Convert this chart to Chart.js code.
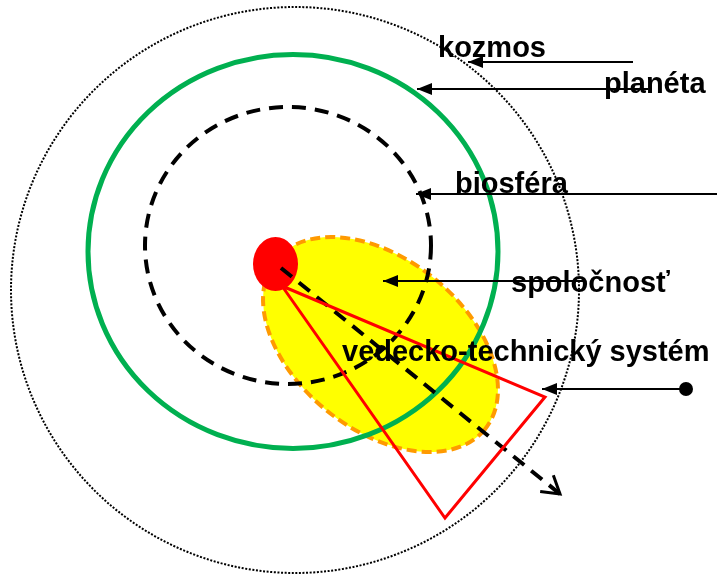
<!DOCTYPE html>
<html>
<head>
<meta charset="utf-8">
<script src="https://cdn.jsdelivr.net/npm/chart.js@4"></script>
<style>
  html, body { margin: 0; padding: 0; background: #ffffff; }
  #wrap { width: 717px; height: 574px; }
</style>
</head>
<body>
<div id="wrap"><canvas id="c" width="717" height="574"></canvas></div>
<script>
// ---- Diagram data (diagram units: 0..717 across, 0..574 down) ----
// Rings / ellipses, drawn back to front
const ringNames   = ['spoločnosť', 'kozmos', 'planéta', 'biosféra', 'jadro'];
const ringCx      = [380.5, 295, 293, 288, 275.5];
const ringCy      = [344.5, 290, 251.5, 245.5, 264];
const ringRx      = [134.5, 284, 205, 143, 22.5];
const ringRy      = [85.2, 283, 197, 138.5, 27];
const ringAngle   = [39, 0, 0, 0, 0];

// Labels
const labelTexts = ['kozmos', 'planéta', 'biosféra', 'spoločnosť', 'vedecko-technický systém'];
const labelX     = [438, 604, 455, 511, 342];
const labelY     = [57, 93, 193, 292, 361];

// Pointer arrows (start -> tip)
const arrowStartX = [633, 648, 717, 585, 686];
const arrowTipX   = [468, 417, 416, 383, 542];
const arrowY      = [62, 89, 194, 281, 389];

// Vedecko-technický systém wedge (triangle vertices)
const wedgeX = [282, 545, 445, 282];
const wedgeY = [286, 397, 518, 286];

// Direction of development (dashed arrow)
const trendX = [281, 560];
const trendY = [268, 494];

// ---- Styles ----
const ringStyles = [
  { fill: '#FFFF00', stroke: '#FF9A00', width: 4, dash: [10, 5] },
  { fill: null, stroke: '#000000', width: 2, dash: [2, 1.6] },
  { fill: null, stroke: '#00B050', width: 5, dash: [] },
  { fill: null, stroke: '#000000', width: 4, dash: [14, 9] },
  { fill: '#FF0000', stroke: null, width: 0, dash: [] }
];

const datasets = [];
// wedge
datasets.push({
  label: 'wedge',
  data: wedgeX.map((x, i) => ({ x: x, y: wedgeY[i] })),
  showLine: true, borderColor: '#FF0000', borderWidth: 3, pointRadius: 0,
  borderJoinStyle: 'miter', fill: false, tension: 0
});
// dashed trend arrow
datasets.push({
  label: 'trend',
  data: trendX.map((x, i) => ({ x: x, y: trendY[i] })),
  showLine: true, borderColor: '#000000', borderWidth: 4, borderDash: [14, 9],
  pointRadius: 0, fill: false, tension: 0
});
// pointer arrows
arrowStartX.forEach((sx, i) => {
  datasets.push({
    label: 'arrow' + i,
    data: [{ x: sx, y: arrowY[i] }, { x: arrowTipX[i], y: arrowY[i] }],
    showLine: true, borderColor: '#000000', borderWidth: 2, fill: false, tension: 0,
    pointRadius: i === 4 ? [7, 0] : 0,
    pointBackgroundColor: '#000000', pointBorderWidth: 0
  });
});

const shapesPlugin = {
  id: 'shapes',
  beforeDatasetsDraw(chart) {
    const ctx = chart.ctx, xs = chart.scales.x, ys = chart.scales.y;
    for (let i = 0; i < ringCx.length; i++) {
      const st = ringStyles[i];
      const px = xs.getPixelForValue(ringCx[i]);
      const py = ys.getPixelForValue(ringCy[i]);
      const rx = Math.abs(xs.getPixelForValue(ringCx[i] + ringRx[i]) - px);
      const ry = Math.abs(ys.getPixelForValue(ringCy[i] + ringRy[i]) - py);
      ctx.save();
      ctx.beginPath();
      ctx.ellipse(px, py, rx, ry, ringAngle[i] * Math.PI / 180, 0, Math.PI * 2);
      if (st.fill) { ctx.fillStyle = st.fill; ctx.fill(); }
      if (st.stroke) {
        ctx.strokeStyle = st.stroke; ctx.lineWidth = st.width;
        ctx.setLineDash(st.dash); ctx.stroke();
      }
      ctx.restore();
    }
  },
  afterDatasetsDraw(chart) {
    const ctx = chart.ctx, xs = chart.scales.x, ys = chart.scales.y;
    // filled arrowheads
    for (let i = 0; i < arrowTipX.length; i++) {
      const tx = xs.getPixelForValue(arrowTipX[i]), ty = ys.getPixelForValue(arrowY[i]);
      const sx = xs.getPixelForValue(arrowStartX[i]);
      const dir = Math.sign(tx - sx);
      ctx.save();
      ctx.fillStyle = '#000000';
      ctx.beginPath();
      ctx.moveTo(tx, ty);
      ctx.lineTo(tx - dir * 15, ty - 6);
      ctx.lineTo(tx - dir * 15, ty + 6);
      ctx.closePath();
      ctx.fill();
      ctx.restore();
    }
    // open arrowhead on trend
    const ax = xs.getPixelForValue(trendX[1]), ay = ys.getPixelForValue(trendY[1]);
    const bx = xs.getPixelForValue(trendX[0]), by = ys.getPixelForValue(trendY[0]);
    const ang = Math.atan2(ay - by, ax - bx);
    ctx.save();
    ctx.strokeStyle = '#000000'; ctx.lineWidth = 3; ctx.setLineDash([]);
    ctx.lineJoin = 'miter';
    ctx.beginPath();
    ctx.moveTo(ax - 20 * Math.cos(ang - 0.55), ay - 20 * Math.sin(ang - 0.55));
    ctx.lineTo(ax, ay);
    ctx.lineTo(ax - 20 * Math.cos(ang + 0.55), ay - 20 * Math.sin(ang + 0.55));
    ctx.stroke();
    ctx.restore();
    // labels
    ctx.save();
    ctx.fillStyle = '#000000';
    ctx.font = 'bold 29px "Liberation Sans", Arial, sans-serif';
    ctx.textBaseline = 'alphabetic';
    ctx.textAlign = 'left';
    labelTexts.forEach((t, i) => {
      ctx.fillText(t, xs.getPixelForValue(labelX[i]), ys.getPixelForValue(labelY[i]));
    });
    ctx.restore();
  }
};

new Chart(document.getElementById('c'), {
  type: 'scatter',
  data: { datasets: datasets },
  options: {
    responsive: false,
    animation: false,
    devicePixelRatio: 1,
    layout: { padding: 0, autoPadding: false },
    plugins: { legend: { display: false }, tooltip: { enabled: false } },
    scales: {
      x: { type: 'linear', min: 0, max: 717, display: false },
      y: { type: 'linear', min: 0, max: 574, reverse: true, display: false }
    }
  },
  plugins: [shapesPlugin]
});
</script>
</body>
</html>
